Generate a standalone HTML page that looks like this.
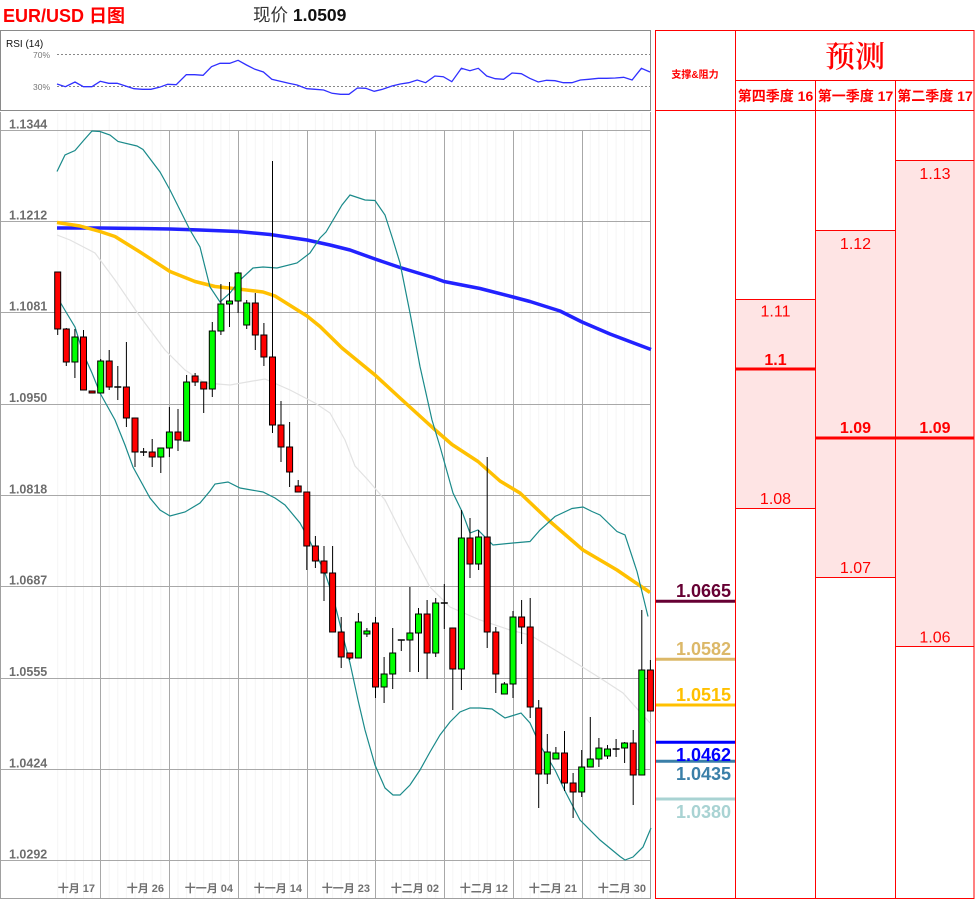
<!DOCTYPE html>
<html><head><meta charset="utf-8"><style>
html,body{margin:0;padding:0;background:#fff;}
svg{display:block;}
text{font-family:"Liberation Sans","Noto Sans CJK SC",sans-serif;}
</style></head><body>
<svg width="975" height="900" viewBox="0 0 975 900" xmlns="http://www.w3.org/2000/svg">
<rect x="0" y="0" width="975" height="900" fill="#fff"/>
<text x="3" y="22" font-size="18" font-weight="bold" fill="#ff0000">EUR/USD 日图</text>
<text x="253" y="21" font-size="17.5" fill="#333">现价 <tspan font-weight="bold" fill="#111">1.0509</tspan></text>

<rect x="0.5" y="30.5" width="650" height="80" fill="#fff" stroke="#8a8a8a" stroke-width="1"/>
<text x="6" y="47" font-size="10" fill="#111">RSI (14)</text>
<text x="33" y="58" font-size="8.5" fill="#777">70%</text>
<text x="33" y="90" font-size="8.5" fill="#777">30%</text>
<line x1="57" y1="54.5" x2="650" y2="54.5" stroke="#888" stroke-width="1" stroke-dasharray="2,2"/>
<line x1="57" y1="86.5" x2="650" y2="86.5" stroke="#888" stroke-width="1" stroke-dasharray="2,2"/>
<polyline fill="none" stroke="#3030ff" stroke-width="1.3" points="57,84 65.3,86.7 75,82 83.4,86.7 91.9,86.7 100.3,81.3 108.7,83.3 117.2,83.3 125.6,86 134,88.7 142.4,89.3 150.9,89.3 159.3,87.3 167.7,84.3 176.2,84.7 186.3,74.7 194.7,74.7 203.1,75.3 211.5,66.7 220,63.3 229.7,63.3 238.1,60.3 246.5,65 255,69.3 263.4,72 271.8,79.3 280.2,81.3 288.7,83.3 297.1,85 306.8,88.7 315.2,89.3 323.6,90 332.1,93.3 340.5,94.3 348.9,94.3 357.4,88 365.8,88.3 374.2,91.3 382.6,89.3 391.9,86 400.3,84 408.8,82.7 417.2,80 425.6,82.7 434.9,76 443.3,76.7 451.8,81.7 461.4,68.3 469.9,70.7 478.3,68.3 486.7,76 495.2,78.7 503.6,79.3 512,73 521.3,73.7 529.7,78.3 538.2,82 546.6,80.3 555,80.7 563.4,82.7 571.9,82.7 580.3,80 588.7,79.3 598.4,78.3 606.8,78.3 615.3,78 623.7,77.3 632.1,80 641.4,68.3 650,72"/>

<path fill="none" stroke="#f5f5f5" stroke-width="1" d="M57.7 113V898M66.3 113V898M74.9 113V898M83.5 113V898M92.1 113V898M109.2 113V898M117.8 113V898M126.4 113V898M135 113V898M143.6 113V898M152.2 113V898M160.8 113V898M178 113V898M186.6 113V898M195.1 113V898M203.7 113V898M212.3 113V898M220.9 113V898M229.5 113V898M246.7 113V898M255.3 113V898M263.9 113V898M272.5 113V898M281 113V898M289.6 113V898M298.2 113V898M315.4 113V898M324 113V898M332.6 113V898M341.2 113V898M349.8 113V898M358.4 113V898M366.9 113V898M384.1 113V898M392.7 113V898M401.3 113V898M409.9 113V898M418.5 113V898M427.1 113V898M435.7 113V898M452.8 113V898M461.4 113V898M470 113V898M478.6 113V898M487.2 113V898M495.8 113V898M504.4 113V898M521.6 113V898M530.2 113V898M538.7 113V898M547.3 113V898M555.9 113V898M564.5 113V898M573.1 113V898M590.3 113V898M598.9 113V898M607.5 113V898M616.1 113V898M624.6 113V898M633.2 113V898M641.8 113V898"/>

<path fill="none" stroke="#a8a8a8" stroke-width="1" d="M0 130.5H651M0 221.5H651M0 312.5H651M0 404.5H651M0 495.5H651M0 586.5H651M0 678.5H651M0 769.5H651M0 860.5H651M100.5 130V898M169.5 130V898M238.5 130V898M307.5 130V898M375.5 130V898M444.5 130V898M513.5 130V898M582.5 130V898"/>
<polyline fill="none" stroke="#a0a0a0" stroke-width="1" points="0.5,112 0.5,898.5 650.5,898.5 650.5,112"/>

<g font-size="12.5" font-weight="bold" fill="#6e6e6e">
<text x="9" y="128.5">1.1344</text>
<text x="9" y="219.5">1.1212</text>
<text x="9" y="310.5">1.1081</text>
<text x="9" y="402">1.0950</text>
<text x="9" y="493.5">1.0818</text>
<text x="9" y="584.5">1.0687</text>
<text x="9" y="676">1.0555</text>
<text x="9" y="767.5">1.0424</text>
<text x="9" y="858.5">1.0292</text>
</g>
<g font-size="11" font-weight="bold" fill="#707070" text-anchor="end">
<text x="95" y="892">十月 17</text>
<text x="164" y="892">十月 26</text>
<text x="233" y="892">十一月 04</text>
<text x="302" y="892">十一月 14</text>
<text x="370" y="892">十一月 23</text>
<text x="439" y="892">十二月 02</text>
<text x="508" y="892">十二月 12</text>
<text x="577" y="892">十二月 21</text>
<text x="646" y="892">十二月 30</text>
</g>

<polyline fill="none" stroke="#e2e2e2" stroke-width="1.2" points="57,235 70,240 95,253 115,280 140,316.5 165,350 185,370 205,383 230,385 250,381.5 265,379 290,390 315,403 330,413 345,440 355,466 368,480 385,500 405,540 430,587 450,607 480,620 510,630 530,635 560,653 600,678 623,693 640,712 650,723"/>
<polyline fill="none" stroke="#2222ff" stroke-width="3.5" stroke-linejoin="round" points="57,228 100,228 140,228.5 170,229 200,230 238,231.5 270,234.5 307,240 330,245 350,250 375,259 400,267.5 433,277.5 444,281.5 480,288.5 513,297 530,301.5 560,311 582,322 610,334 651,349.5"/>
<polyline fill="none" stroke="#ffc000" stroke-width="3.5" stroke-linejoin="round" points="57,222.5 80,226 100,231.5 115,236.5 140,252 170,271.5 195,281.5 215,286.5 238,289 263,292 275,296 307,316 320,326.5 342,348 375,375 400,398 433,428 452,444.5 478,461.5 500,481 520,493 550,521.5 583,550 617,570 650,592.5"/>
<polyline fill="none" stroke="#1a8a8a" stroke-width="1.2" points="57,171.5 65,155 75,150.5 84,140 92,131 100,131.5 110,135 118,141.5 137,146 143,149.5 160,172 170,190 180,210 190,230 200,247 210,287 220,302 230,293 240,280 253,268 263,267 277,268 297,263 310,253 320,238 326,232 342,205 350,195 365,200 375,200.5 385,215 393,240 400,263 410,313 420,366.5 432,420 440,446.5 453,493 462,511.5 470,533 478,530 493,545 513,543 530,541.5 540,530 555,516.5 572,508.5 583,507 592,511.5 600,515 617,531.5 625,535 637,571.5 648,616.5"/>
<polyline fill="none" stroke="#1a8a8a" stroke-width="1.2" points="57.7,298 66,312 75,327 83,353 92,373 100,393 115,420 125,445 133,467 150,498 160,510 170,516 185,512 200,503 210,491 215,484 228,482 240,488 263,492 275,498 285,505 300,523 310,541.5 325,573 333,596.5 343,636.5 350,663 358,700 365,730 375,765 385,788 393,795 400,795 410,785 420,770 430,752 440,735 450,722 460,712 470,708 480,708 492,709 505,718 521,713 530,723 540,745 555,770 566,793 580,820 600,840 620,856.5 625,860 633,857 643,847 651,828"/>

<path fill="none" stroke="#000" stroke-width="1" d="M57.7 272V335M66.3 328V366M74.9 329V378M83.5 330V390M100.7 359V393M109.2 350V390M117.8 366V400M126.4 342V427M135 418V467M143.6 448V456M152.2 439V467M160.8 448V473M169.4 407V457M178 409V451M186.6 375V441M195.1 373V386M203.7 382V413M212.3 322V397M220.9 284V335M229.5 282V327M238.1 272V313M246.7 300V329M255.3 293V350M263.9 323V366M272.5 161V433M281 401V462M289.6 422V487M298.2 480V492M306.8 492V570M315.4 536V568M324 546V601M332.6 546V632M341.2 617V668M349.8 653V660M358.4 613V658M366.9 628V637M375.5 617V698M384.1 657V703M392.7 628V689M401.3 640V651M409.9 587V672M418.5 608V672M427.1 600V679M435.7 598V657M444.3 584V629M452.8 628V710M461.4 510V690M470 518V578M478.6 530V570M487.2 457V648M495.8 627V693M504.4 682V694M513 611V698M521.6 600V644M530.2 598V718M538.7 700V808M547.3 734V784M555.9 747V759M564.5 731V791M573.1 773V818M581.7 750V797M590.3 717V767M598.9 738V767M607.5 745V759M616.1 739V757M624.6 742V763M633.2 730V805M641.8 610V775M650.4 660V711"/>
<path fill="none" stroke="#000" stroke-width="1.6" d="M114.3 387H121.3M140.1 452H147.1M397.8 640H404.8M440.8 603H447.8M612.6 749H619.6"/>
<g fill="#ff0000" stroke="#000" stroke-width="1">
<rect x="54.7" y="272" width="6" height="57"/>
<rect x="63.3" y="329" width="6" height="33"/>
<rect x="80.5" y="337" width="6" height="53"/>
<rect x="89.1" y="391" width="6" height="2"/>
<rect x="106.2" y="361" width="6" height="26"/>
<rect x="123.4" y="387" width="6" height="31"/>
<rect x="132" y="418" width="6" height="34"/>
<rect x="149.2" y="452" width="6" height="5"/>
<rect x="175" y="432" width="6" height="8"/>
<rect x="192.1" y="376" width="6" height="6"/>
<rect x="200.7" y="382" width="6" height="7"/>
<rect x="252.3" y="303" width="6" height="32"/>
<rect x="260.9" y="335" width="6" height="22"/>
<rect x="269.5" y="357" width="6" height="68"/>
<rect x="278" y="425" width="6" height="22"/>
<rect x="286.6" y="447" width="6" height="25"/>
<rect x="295.2" y="486" width="6" height="6"/>
<rect x="303.8" y="492" width="6" height="54"/>
<rect x="312.4" y="546" width="6" height="15"/>
<rect x="321" y="561" width="6" height="12"/>
<rect x="329.6" y="573" width="6" height="59"/>
<rect x="338.2" y="632" width="6" height="25"/>
<rect x="346.8" y="653" width="6" height="5"/>
<rect x="372.5" y="623" width="6" height="64"/>
<rect x="424.1" y="614" width="6" height="39"/>
<rect x="449.8" y="628" width="6" height="41"/>
<rect x="467" y="538" width="6" height="26"/>
<rect x="484.2" y="537" width="6" height="95"/>
<rect x="492.8" y="632" width="6" height="42"/>
<rect x="518.6" y="617" width="6" height="10"/>
<rect x="527.2" y="627" width="6" height="80"/>
<rect x="535.7" y="708" width="6" height="66"/>
<rect x="561.5" y="753" width="6" height="30"/>
<rect x="570.1" y="783" width="6" height="9"/>
<rect x="630.2" y="743" width="6" height="32"/>
<rect x="647.4" y="670" width="6" height="41"/>
</g>
<g fill="#00ff00" stroke="#000" stroke-width="1">
<rect x="71.9" y="337" width="6" height="25"/>
<rect x="97.7" y="361" width="6" height="32"/>
<rect x="157.8" y="448" width="6" height="9"/>
<rect x="166.4" y="432" width="6" height="16"/>
<rect x="183.6" y="382" width="6" height="59"/>
<rect x="209.3" y="331" width="6" height="58"/>
<rect x="217.9" y="304" width="6" height="27"/>
<rect x="226.5" y="301" width="6" height="3"/>
<rect x="235.1" y="273" width="6" height="28"/>
<rect x="243.7" y="303" width="6" height="22"/>
<rect x="355.4" y="622" width="6" height="36"/>
<rect x="363.9" y="631" width="6" height="3"/>
<rect x="381.1" y="674" width="6" height="13"/>
<rect x="389.7" y="653" width="6" height="21"/>
<rect x="406.9" y="633" width="6" height="7"/>
<rect x="415.5" y="614" width="6" height="19"/>
<rect x="432.7" y="603" width="6" height="50"/>
<rect x="458.4" y="538" width="6" height="131"/>
<rect x="475.6" y="537" width="6" height="27"/>
<rect x="501.4" y="684" width="6" height="10"/>
<rect x="510" y="617" width="6" height="67"/>
<rect x="544.3" y="752" width="6" height="22"/>
<rect x="552.9" y="753" width="6" height="6"/>
<rect x="578.7" y="767" width="6" height="25"/>
<rect x="587.3" y="759" width="6" height="8"/>
<rect x="595.9" y="748" width="6" height="11"/>
<rect x="604.5" y="749" width="6" height="7"/>
<rect x="621.6" y="743" width="6" height="5"/>
<rect x="638.8" y="670" width="6" height="105"/>
</g>

<rect x="736" y="299" width="79" height="209" fill="#fee4e4"/>
<rect x="816" y="230" width="79" height="347" fill="#fee4e4"/>
<rect x="896" y="160" width="78" height="486" fill="#fee4e4"/>
<rect x="655.5" y="30.5" width="318.5" height="868" fill="none" stroke="#ff0000" stroke-width="1"/>
<path fill="none" stroke="#ff0000" stroke-width="1" d="M735.5 30V899M815.5 80V899M895.5 80V899M735 80.5H974M655 110.5H974M735 299.5H815M735 508.5H815M815 230.5H895M815 577.5H895M895 160.5H974M895 646.5H974"/>
<path fill="none" stroke="#ff0000" stroke-width="3" d="M736 369H815M816 438H895M896 438H974"/>
<text x="855" y="67" font-size="30" text-anchor="middle" fill="#ff0000" style="font-family:'Noto Serif CJK SC','Noto Sans CJK SC',serif;font-weight:600;">预测</text>
<text x="695" y="78" font-size="10" font-weight="bold" text-anchor="middle" fill="#ff0000">支撑&amp;阻力</text>
<g font-size="14" font-weight="bold" fill="#ff0000" text-anchor="middle">
<text x="775.5" y="101">第四季度 16</text>
<text x="855.5" y="101">第一季度 17</text>
<text x="935" y="101">第二季度 17</text>
</g>
<g font-size="16" fill="#ff0000" text-anchor="middle">
<text x="775.5" y="316.5">1.11</text>
<text x="775.5" y="365" font-weight="bold">1.1</text>
<text x="775.5" y="504">1.08</text>
<text x="855.5" y="249">1.12</text>
<text x="855.5" y="433" font-weight="bold">1.09</text>
<text x="855.5" y="573">1.07</text>
<text x="935" y="179">1.13</text>
<text x="935" y="433" font-weight="bold">1.09</text>
<text x="935" y="642.5">1.06</text>
</g>

<line x1="656" y1="601.3" x2="735" y2="601.3" stroke="#660033" stroke-width="3"/>
<line x1="656" y1="659.3" x2="735" y2="659.3" stroke="#dcb868" stroke-width="3"/>
<line x1="656" y1="705" x2="735" y2="705" stroke="#ffc000" stroke-width="3"/>
<line x1="656" y1="742.3" x2="735" y2="742.3" stroke="#0000ff" stroke-width="3"/>
<line x1="656" y1="761.3" x2="735" y2="761.3" stroke="#3a7fa8" stroke-width="3"/>
<line x1="656" y1="799" x2="735" y2="799" stroke="#a9d3d3" stroke-width="3"/>
<g font-size="18" font-weight="bold" text-anchor="end">
<text x="731" y="597" fill="#660033">1.0665</text>
<text x="731" y="655" fill="#dcb868">1.0582</text>
<text x="731" y="701" fill="#ffc000">1.0515</text>
<text x="731" y="761" fill="#0000ff">1.0462</text>
<text x="731" y="780" fill="#3a7fa8">1.0435</text>
<text x="731" y="818" fill="#a9d3d3">1.0380</text>
</g>
</svg>
</body></html>
